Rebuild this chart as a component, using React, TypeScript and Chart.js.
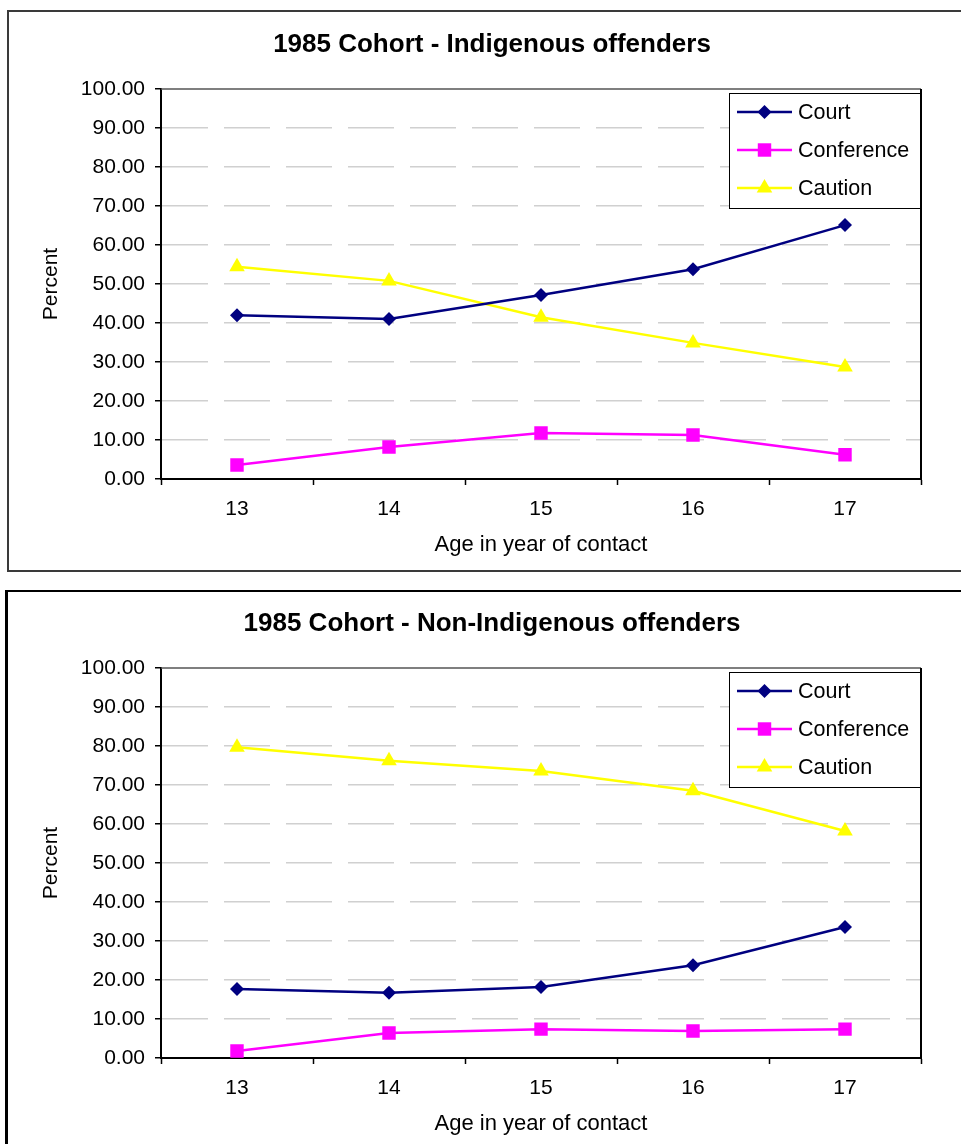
import React, { useEffect, useRef } from 'react';
import { Chart, registerables } from 'chart.js';

Chart.register(...registerables);

// ---- Data ----
const ages = ['13', '14', '15', '16', '17'];
const seriesNames = ['Court', 'Conference', 'Caution'];

const indigenousCourt = [42.0, 41.0, 47.2, 53.8, 65.1];
const indigenousConference = [3.6, 8.2, 11.8, 11.3, 6.2];
const indigenousCaution = [54.4, 50.8, 41.5, 34.9, 28.7];

const nonIndigenousCourt = [17.7, 16.7, 18.2, 23.8, 33.6];
const nonIndigenousConference = [1.8, 6.4, 7.4, 6.9, 7.4];
const nonIndigenousCaution = [79.7, 76.2, 73.6, 68.5, 58.2];

const yMin = 0;
const yMax = 100;
const yStep = 10;

const titleTop = '1985 Cohort - Indigenous offenders';
const titleBottom = '1985 Cohort - Non-Indigenous offenders';
const xTitle = 'Age in year of contact';
const yTitle = 'Percent';

// ---- Styles ----
const FONT = '"Liberation Sans", Arial, Helvetica, sans-serif';
const seriesColors = ['#000080', '#FF00FF', '#FFFF00'];
const seriesMarkers = ['rectRot', 'rect', 'triangle'];
const markerRadii = [7, 9.5, 9];

function drawMarker(ctx: CanvasRenderingContext2D, style: string, x: number, y: number, r: number, color: string) {
  ctx.save();
  ctx.fillStyle = color;
  ctx.beginPath();
  if (style === 'rectRot') {
    ctx.moveTo(x - r, y);
    ctx.lineTo(x, y - r);
    ctx.lineTo(x + r, y);
    ctx.lineTo(x, y + r);
    ctx.closePath();
  } else if (style === 'rect') {
    const s = Math.SQRT1_2 * r;
    ctx.rect(x - s, y - s, 2 * s, 2 * s);
  } else {
    ctx.moveTo(x, y - r);
    ctx.lineTo(x + 0.866 * r, y + 0.5 * r);
    ctx.lineTo(x - 0.866 * r, y + 0.5 * r);
    ctx.closePath();
  }
  ctx.fill();
  ctx.restore();
}

const framePlugin = {
  id: 'frameAndLegend',
  afterDraw(chart: any) {
    const { ctx, chartArea } = chart;
    ctx.save();
    // chart title
    const t = chart.options.plugins.chartTitleText as string;
    ctx.fillStyle = '#000';
    ctx.font = `bold 26px ${FONT}`;
    ctx.textAlign = 'center';
    ctx.textBaseline = 'middle';
    ctx.fillText(t, 483, 33);

    // plot area frame (top and right)
    ctx.strokeStyle = '#555';
    ctx.lineWidth = 1.5;
    ctx.beginPath();
    ctx.moveTo(chartArea.left, chartArea.top);
    ctx.lineTo(chartArea.right, chartArea.top);
    ctx.stroke();
    ctx.strokeStyle = '#000';
    ctx.lineWidth = 2;
    ctx.beginPath();
    ctx.moveTo(chartArea.right, chartArea.top);
    ctx.lineTo(chartArea.right, chartArea.bottom);
    ctx.stroke();

    // legend box
    const w = 191;
    const h = 115;
    const left = chartArea.right - 192;
    const top = chartArea.top + 4;
    ctx.fillStyle = '#fff';
    ctx.fillRect(left, top, w, h);
    ctx.strokeStyle = '#000';
    ctx.lineWidth = 1;
    ctx.strokeRect(left + 0.5, top + 0.5, w, h);
    chart.data.datasets.forEach((ds: any, i: number) => {
      const y = top + 19 + i * 38;
      ctx.strokeStyle = ds.borderColor;
      ctx.lineWidth = 2.5;
      ctx.beginPath();
      ctx.moveTo(left + 8, y);
      ctx.lineTo(left + 63, y);
      ctx.stroke();
      drawMarker(ctx, ds.pointStyle, left + 35.5, y, ds.pointRadius, ds.backgroundColor);
      ctx.fillStyle = '#000';
      ctx.font = `21.5px ${FONT}`;
      ctx.textBaseline = 'middle';
      ctx.textAlign = 'left';
      ctx.fillText(ds.label, left + 69, y + 1);
    });
    ctx.restore();
  },
};

function makeConfig(title: string, court: number[], conference: number[], caution: number[]): any {
  const values = [court, conference, caution];
  return {
    type: 'line',
    data: {
      labels: ages,
      datasets: seriesNames.map((name, i) => ({
        label: name,
        data: values[i],
        borderColor: seriesColors[i],
        backgroundColor: seriesColors[i],
        pointBackgroundColor: seriesColors[i],
        pointBorderColor: seriesColors[i],
        pointBorderWidth: 0,
        pointStyle: seriesMarkers[i],
        pointRadius: markerRadii[i],
        borderWidth: 2.5,
        tension: 0,
        fill: false,
      })),
    },
    options: {
      responsive: false,
      animation: false,
      layout: { padding: { left: 0, right: 38, top: 77, bottom: 0 } },
      plugins: {
        chartTitleText: title,
        legend: { display: false },
        tooltip: { enabled: false },
        title: { display: false },
      },
      scales: {
        x: {
          type: 'category',
          offset: true,
          grid: {
            offset: true,
            drawOnChartArea: false,
            drawTicks: true,
            tickLength: 6,
            tickColor: '#000',
            tickWidth: 1.5,
          },
          border: { color: '#000', width: 2 },
          ticks: {
            color: '#000',
            font: { family: FONT, size: 21 },
            padding: 12,
            maxRotation: 0,
            autoSkip: false,
          },
          title: {
            display: true,
            text: xTitle,
            color: '#000',
            font: { family: FONT, size: 22 },
            padding: { top: 0, bottom: 11 },
          },
          afterFit: (s: any) => {
            s.height = 90;
          },
        },
        y: {
          min: yMin,
          max: yMax,
          ticks: {
            stepSize: yStep,
            callback: (v: any) => Number(v).toFixed(2),
            color: '#000',
            font: { family: FONT, size: 21 },
            padding: 10,
          },
          grid: {
            color: (c: any) => (c.tick && c.tick.value === yMax ? 'rgba(0,0,0,0)' : '#d0d0d0'),
            lineWidth: 1.5,
            tickLength: 6,
            tickColor: '#000',
            tickWidth: 1.5,
            tickBorderDash: [],
          },
          border: { color: '#000', width: 2, dash: [46, 16] },
          title: {
            display: true,
            text: yTitle,
            color: '#000',
            font: { family: FONT, size: 21 },
            padding: { top: 30, bottom: 0 },
          },
          afterFit: (s: any) => {
            s.width = 152;
          },
        },
      },
    },
    plugins: [framePlugin],
  };
}

function ChartCanvas({ config, left, top }: { config: any; left: number; top: number }) {
  const ref = useRef<HTMLCanvasElement | null>(null);
  useEffect(() => {
    if (!ref.current) return;
    const chart = new Chart(ref.current, config);
    return () => chart.destroy();
  }, [config]);
  return (
    <canvas
      ref={ref}
      width={950}
      height={557}
      style={{ position: 'absolute', left, top, width: 950, height: 557 }}
    />
  );
}

const cfgTop = makeConfig(titleTop, indigenousCourt, indigenousConference, indigenousCaution);
const cfgBottom = makeConfig(titleBottom, nonIndigenousCourt, nonIndigenousConference, nonIndigenousCaution);

export default function App() {
  return (
    <div
      style={{
        position: 'absolute',
        left: 0,
        top: 0,
        width: 961,
        height: 1144,
        overflow: 'hidden',
        background: '#fff',
      }}
    >
      <div
        style={{
          position: 'absolute',
          left: 7,
          top: 10,
          width: 980,
          height: 562,
          boxSizing: 'border-box',
          border: '2px solid #3a3a3a',
        }}
      />
      <div
        style={{
          position: 'absolute',
          left: 5,
          top: 590,
          width: 980,
          height: 600,
          boxSizing: 'border-box',
          borderTop: '2.5px solid #000',
          borderLeft: '3px solid #000',
        }}
      />
      <ChartCanvas config={cfgTop} left={9} top={12} />
      <ChartCanvas config={cfgBottom} left={9} top={591} />
    </div>
  );
}
